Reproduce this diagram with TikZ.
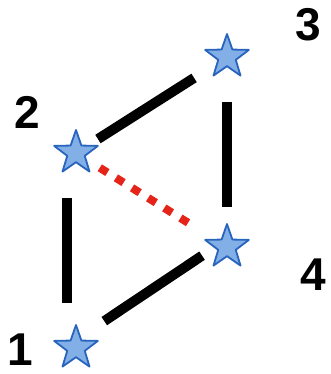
\documentclass[tikz,border=0pt]{standalone}
\usepackage{fontspec}
\setsansfont{Liberation Sans}
\usetikzlibrary{shapes.geometric}
\definecolor{starblue}{RGB}{40,100,190}
\definecolor{starfill}{RGB}{130,175,230}
\definecolor{cutred}{RGB}{230,35,25}

\begin{document}
\begin{tikzpicture}[x=1pt, y=-1pt,
    site/.style={star, star points=5, star point ratio=2.5, minimum size=46pt, inner sep=0pt, draw=starblue, fill=starfill, line width=1.8pt, line join=round},
    num/.style={font=\fontsize{46}{46}\selectfont\sffamily\bfseries, inner sep=0pt},
    link/.style={line width=10pt, black},
    cut/.style={line width=8pt, cutred, dash pattern=on 9pt off 10pt},
]
    \useasboundingbox (0,0) rectangle (331,374);
    \node[site] (s1) at (76,348) {};
    \node[site] (s2) at (76,153) {};
    \node[site] (s3) at (227,57) {};
    \node[site] (s4) at (227,247) {};
    \node[num] (n1) at (20,350) {1};
    \node[num] (n2) at (27,112) {2};
    \node[num] (n3) at (308,25) {3};
    \node[num] (n4) at (313,275) {4};
    \draw[link, shorten <=45pt, shorten >=45pt] ([xshift=-9pt]s1.center) -- ([xshift=-9pt]s2.center);
    \draw[link, shorten <=26pt, shorten >=39pt] (s2.center) -- (s3.center);
    \draw[link, shorten <=45pt, shorten >=40pt] (s3.center) -- (s4.center);
    \draw[link, shorten <=30pt, shorten >=34pt] ([yshift=8pt]s4.center) -- ([yshift=8pt]s1.center);
    \draw[cut, shorten <=28pt, shorten >=40pt] (s2.center) -- (s4.center);
\end{tikzpicture}
\end{document}
